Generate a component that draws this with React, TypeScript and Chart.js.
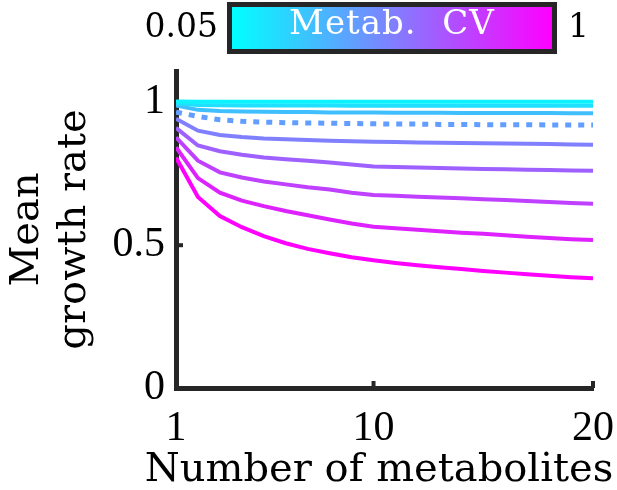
import React, { useEffect, useRef } from 'react';
import { Chart, registerables } from 'chart.js';

Chart.register(...registerables);

// ---- data ----
const metabolites = [1, 2, 3, 4, 5, 6, 7, 8, 9, 10, 11, 12, 13, 14, 15, 16, 17, 18, 19, 20];
const cvLevels = [0.05, 0.12, 0.25, 0.38, 0.5, 0.62, 0.75, 0.87, 1];

const growthCV005 = [1.003, 1.002, 1.002, 1.002, 1.002, 1.002, 1.002, 1.002, 1.002, 1.002, 1.002, 1.002, 1.002, 1.002, 1.002, 1.002, 1.002, 1.002, 1.002, 1.002];
const growthCV012 = [0.997, 0.991, 0.990, 0.989, 0.989, 0.989, 0.989, 0.989, 0.988, 0.988, 0.988, 0.988, 0.988, 0.988, 0.988, 0.988, 0.988, 0.988, 0.988, 0.988];
const growthCV025 = [0.989, 0.974, 0.970, 0.968, 0.967, 0.966, 0.966, 0.965, 0.965, 0.965, 0.964, 0.964, 0.964, 0.963, 0.963, 0.963, 0.963, 0.963, 0.962, 0.962];
const growthCV038 = [0.966, 0.951, 0.939, 0.934, 0.931, 0.929, 0.928, 0.927, 0.926, 0.925, 0.924, 0.924, 0.923, 0.923, 0.922, 0.922, 0.922, 0.921, 0.921, 0.921];
const growthCV050 = [0.943, 0.901, 0.886, 0.879, 0.874, 0.871, 0.868, 0.866, 0.864, 0.862, 0.861, 0.860, 0.859, 0.858, 0.857, 0.856, 0.855, 0.854, 0.853, 0.852];
const growthCV062 = [0.911, 0.849, 0.829, 0.817, 0.807, 0.801, 0.796, 0.790, 0.783, 0.776, 0.774, 0.772, 0.770, 0.769, 0.767, 0.766, 0.764, 0.763, 0.762, 0.761];
const growthCV075 = [0.878, 0.796, 0.755, 0.737, 0.723, 0.713, 0.703, 0.695, 0.684, 0.676, 0.673, 0.670, 0.667, 0.664, 0.661, 0.658, 0.655, 0.651, 0.648, 0.645];
const growthCV087 = [0.843, 0.735, 0.684, 0.656, 0.637, 0.620, 0.605, 0.590, 0.576, 0.565, 0.559, 0.554, 0.549, 0.544, 0.540, 0.535, 0.530, 0.525, 0.521, 0.518];
const growthCV100 = [0.807, 0.669, 0.602, 0.563, 0.532, 0.507, 0.487, 0.472, 0.458, 0.447, 0.438, 0.430, 0.423, 0.417, 0.410, 0.404, 0.398, 0.393, 0.388, 0.384];

const seriesValues = [growthCV005, growthCV012, growthCV025, growthCV038, growthCV050, growthCV062, growthCV075, growthCV087, growthCV100];
const dottedSeries = [false, false, false, true, false, false, false, false, false];

const xTicks = [1, 10, 20];
const yTicks = [0, 0.5, 1];
const xTitle = 'Number of metabolites';
const yTitle = ['Mean', 'growth rate'];
const cbarLow = '0.05';
const cbarHigh = '1';
const cbarLabel = 'Metab. CV';

const cvColor = (t: number) =>
  `rgb(${Math.round(255 * t)},${Math.round(255 * (1 - t))},255)`;

const AXIS_COLOR = '#262626';

const inwardTicks = {
  id: 'inwardTicks',
  beforeDatasetsDraw(chart: any) {
    const { ctx, chartArea, scales } = chart;
    ctx.save();
    ctx.strokeStyle = AXIS_COLOR;
    ctx.lineWidth = 4;
    ctx.lineCap = 'butt';
    xTicks.forEach((v) => {
      const px = scales.x.getPixelForValue(v);
      ctx.beginPath();
      ctx.moveTo(px, chartArea.bottom);
      ctx.lineTo(px, chartArea.bottom - 7);
      ctx.stroke();
    });
    yTicks.forEach((v) => {
      const py = scales.y.getPixelForValue(v);
      ctx.beginPath();
      ctx.moveTo(chartArea.left, py);
      ctx.lineTo(chartArea.left + 7, py);
      ctx.stroke();
    });
    ctx.restore();
  },
};

export default function App() {
  const canvasRef = useRef<HTMLCanvasElement | null>(null);

  useEffect(() => {
    if (!canvasRef.current) return;
    const datasets = seriesValues.map((vals, i) => ({
      label: `CV ${cvLevels[i]}`,
      data: vals.map((y, j) => ({ x: metabolites[j], y })),
      borderColor: cvColor(cvLevels[i]),
      backgroundColor: cvColor(cvLevels[i]),
      borderWidth: dottedSeries[i] ? 5 : 4,
      borderDash: dottedSeries[i] ? [6, 7] : [],
      borderCapStyle: 'butt' as const,
      pointRadius: 0,
      tension: 0,
      fill: false,
    }));

    const chart = new Chart(canvasRef.current, {
      type: 'line',
      data: { datasets },
      plugins: [inwardTicks],
      options: {
        animation: false,
        responsive: false,
        devicePixelRatio: 1,
        layout: { padding: { top: 71, right: 24, bottom: 0, left: 0 } },
        plugins: {
          legend: { display: false },
          tooltip: { enabled: false },
        },
        scales: {
          x: {
            type: 'linear',
            min: 1,
            max: 20,
            afterBuildTicks: (scale: any) => {
              scale.ticks = xTicks.map((v) => ({ value: v }));
            },
            afterFit: (scale: any) => {
              scale.height = 102;
              scale.paddingLeft = 0;
              scale.paddingRight = 0;
            },
            grid: { display: false, drawTicks: false },
            border: { display: true, color: AXIS_COLOR, width: 5 },
            ticks: {
              color: '#000',
              padding: 16,
              maxRotation: 0,
              autoSkip: false,
              font: { family: 'Liberation Serif', size: 42, lineHeight: 1.2 },
              callback: (v: any) => String(v),
            },
            title: { display: false, text: xTitle },
          },
          y: {
            type: 'linear',
            min: 0,
            max: 1.11,
            afterBuildTicks: (scale: any) => {
              scale.ticks = yTicks.map((v) => ({ value: v }));
            },
            afterFit: (scale: any) => {
              scale.width = 176;
              scale.paddingTop = 0;
              scale.paddingBottom = 0;
            },
            grid: { display: false, drawTicks: false },
            border: { display: true, color: AXIS_COLOR, width: 5 },
            ticks: {
              color: '#000',
              padding: 11,
              autoSkip: false,
              font: { family: 'Liberation Serif', size: 42, lineHeight: 1.2 },
              callback: (v: any) => String(v),
            },
            title: {
              display: true,
              text: yTitle,
              color: '#000',
              padding: { top: 4, bottom: 0 },
              font: { family: 'DejaVu Serif', size: 40, lineHeight: 1.18 },
            },
          },
        },
      },
    });
    return () => chart.destroy();
  }, []);

  return (
    <div style={{ position: 'absolute', left: 0, top: 0, width: 617, height: 490, background: '#fff', overflow: 'hidden' }}>
      <canvas ref={canvasRef} width={617} height={490} style={{ position: 'absolute', left: 0, top: 0, width: 617, height: 490 }} />
      <div
        style={{
          position: 'absolute', left: 79, top: 447, width: 600, textAlign: 'center',
          fontFamily: 'DejaVu Serif', fontSize: 40, lineHeight: '40px', color: '#000', whiteSpace: 'nowrap',
        }}
      >
        {xTitle}
      </div>
      <div
        style={{
          position: 'absolute', left: 118, top: 9, width: 100, textAlign: 'right',
          fontFamily: 'DejaVu Serif', fontSize: 33, lineHeight: '33px', color: '#000',
        }}
      >
        {cbarLow}
      </div>
      <div
        style={{
          position: 'absolute', left: 227, top: 2, width: 330, height: 52, boxSizing: 'border-box',
          border: `5px solid ${AXIS_COLOR}`,
          background: `linear-gradient(to right, ${cvColor(0)}, ${cvColor(1)})`,
        }}
      />
      <div
        style={{
          position: 'absolute', left: 227, top: 5, width: 330, textAlign: 'center',
          fontFamily: 'DejaVu Serif', fontSize: 34, lineHeight: '34px', color: '#fff',
          letterSpacing: 1, wordSpacing: 14, whiteSpace: 'nowrap',
        }}
      >
        {cbarLabel}
      </div>
      <div
        style={{
          position: 'absolute', left: 568, top: 9,
          fontFamily: 'DejaVu Serif', fontSize: 33, lineHeight: '33px', color: '#000',
        }}
      >
        {cbarHigh}
      </div>
    </div>
  );
}
